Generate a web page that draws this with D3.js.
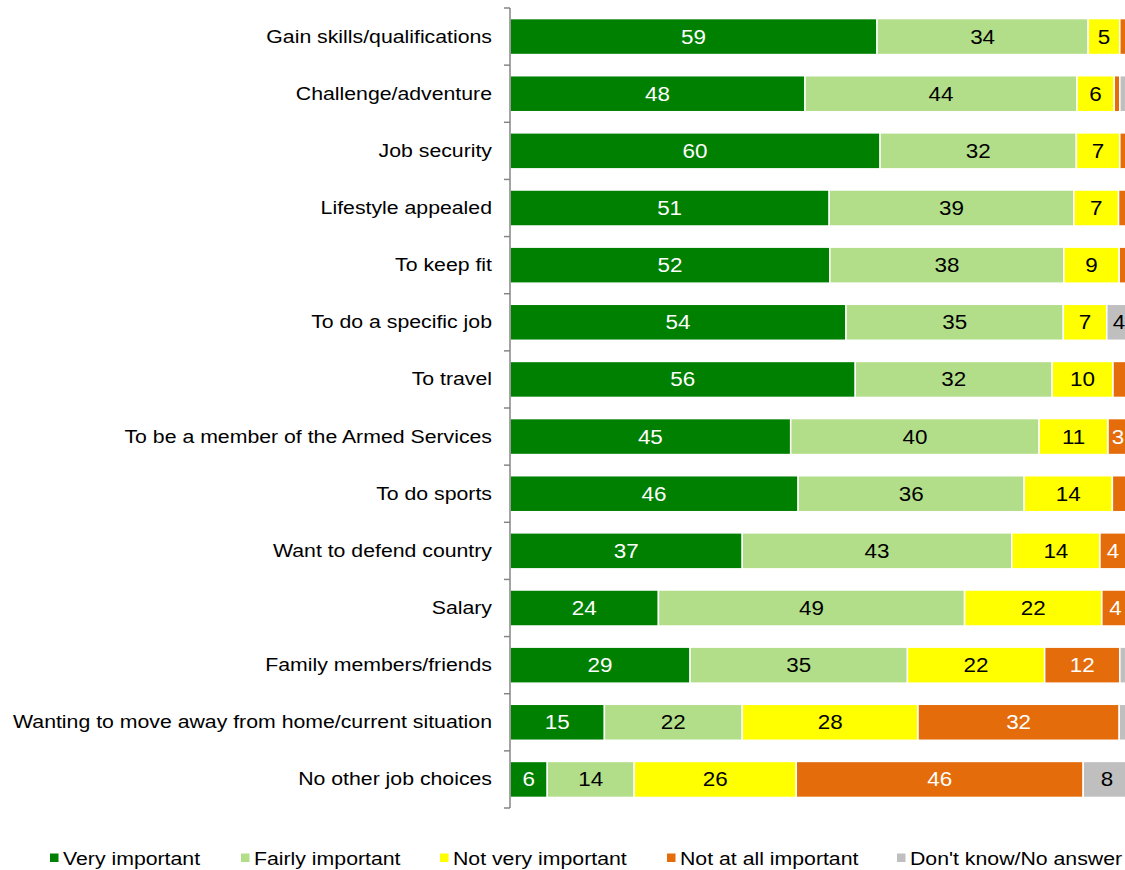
<!DOCTYPE html>
<html>
<head>
<meta charset="utf-8">
<script src="https://cdn.jsdelivr.net/npm/d3@7"></script>
<style>
  body { margin: 0; background: #fff; }
  text { font-family: "Liberation Sans", Arial, sans-serif; }
</style>
</head>
<body>
<script>
// categories, top to bottom
var reasons = [
  "Gain skills/qualifications",
  "Challenge/adventure",
  "Job security",
  "Lifestyle appealed",
  "To keep fit",
  "To do a specific job",
  "To travel",
  "To be a member of the Armed Services",
  "To do sports",
  "Want to defend country",
  "Salary",
  "Family members/friends",
  "Wanting to move away from home/current situation",
  "No other job choices"
]

var series = ["Very important", "Fairly important", "Not very important", "Not at all important", "Don't know/No answer"]

// values (%) per series, same order as reasons (labels are rounded)
var veryImportant   = [59.1, 47.5, 59.6, 51.4, 51.5, 54.1, 55.6, 45.2, 46.4, 37.4, 23.9, 29.0, 15.2, 6.0]
var fairlyImportant = [34.0, 43.8, 31.6, 39.4, 37.7, 35.0, 31.7, 40.0, 36.4, 43.4, 49.3, 35.0, 22.2, 14.0]
var notVery         = [5.1, 6.0, 7.0, 7.2, 8.9, 7.0, 9.8, 11.1, 14.2, 14.2, 22.1, 22.1, 28.3, 26.1]
var notAtAll        = [1.0, 0.9, 1.8, 1.8, 1.9, 0.0, 2.4, 3.2, 2.4, 4.2, 4.4, 12.1, 32.4, 46.2]
var dontKnow        = [0.8, 1.8, 0.0, 0.2, 0.0, 3.9, 0.5, 0.5, 0.6, 0.8, 0.3, 1.0, 1.2, 7.7]

var colors = ["#008000", "#b3de89", "#ffff00", "#e46c0a", "#bfbfbf"]
var labelColors = ["#fff", "#000", "#000", "#fff", "#000"]

// build rows for stacking
var rows = reasons.map(function(r, i) {
  return {reason: r, v0: veryImportant[i], v1: fairlyImportant[i], v2: notVery[i], v3: notAtAll[i], v4: dontKnow[i]}
})
var keys = ["v0", "v1", "v2", "v3", "v4"]
var stacked = d3.stack().keys(keys)(rows)

var W = 1125, H = 870
var stretch = "scale(1.15,1)" // text in the reference is a bit wide

var svg = d3.select("body").append("svg")
    .attr("width", W)
    .attr("height", H)

var x = d3.scaleLinear().domain([0, 100]).range([510, 1131])
var y = d3.scaleBand().domain(reasons).range([8, 808]).paddingInner(0.37).paddingOuter(0.185)

// bar layers
var layers = svg.append("g").selectAll("g")
  .data(stacked)
  .enter()
  .append("g")
  .attr("fill", (d, i) => colors[i])

layers.selectAll("rect")
  .data(d => d)
  .enter()
  .append("rect")
  .attr("x", d => x(d[0]))
  .attr("y", d => y(d.data.reason))
  .attr("width", d => Math.max(0, x(d[1]) - x(d[0])))
  .attr("height", y.bandwidth())
  .style("stroke", "#fff")
  .style("stroke-width", 1.5)

// value labels
stacked.forEach(function(layer, i) {
  svg.append("g").selectAll("text")
    .data(layer.filter(d => Math.round(d[1] - d[0]) >= 3))
    .enter()
    .append("text")
    .attr("transform", d => "translate(" + (x(d[0]) + x(d[1])) / 2 + "," + (y(d.data.reason) + y.bandwidth() / 2) + ") " + stretch)
    .attr("dy", "0.36em")
    .attr("text-anchor", "middle")
    .attr("font-size", "19.5px")
    .attr("fill", labelColors[i])
    .text(d => Math.round(d[1] - d[0]))
})

// category axis
var axis = d3.axisLeft(y).tickSize(0).tickPadding(0)
var ax = svg.append("g").attr("transform", "translate(492,0)").call(axis)
ax.select(".domain").remove()
ax.selectAll("text")
  .attr("x", 0)
  .attr("transform", stretch)
  .attr("font-size", "18.5px")
  .attr("fill", "#000")
  .style("font-family", "'Liberation Sans', Arial, sans-serif")

// axis line and boundary ticks
var bounds = d3.range(reasons.length + 1).map(i => 8 + i * (800 / reasons.length))
svg.append("line")
  .attr("x1", 510).attr("x2", 510)
  .attr("y1", 8).attr("y2", 808)
  .style("stroke", "#868686").style("stroke-width", 1.5)
svg.append("g").selectAll("line")
  .data(bounds)
  .enter()
  .append("line")
  .attr("x1", 504).attr("x2", 510)
  .attr("y1", d => d).attr("y2", d => d)
  .style("stroke", "#868686").style("stroke-width", 1.5)

// legend
var legendX = [50, 241, 440, 667, 897]
var legend = svg.append("g").selectAll("g")
  .data(series)
  .enter()
  .append("g")
  .attr("transform", (d, i) => "translate(" + legendX[i] + ",858)")
legend.append("rect")
  .attr("x", 0).attr("y", -4.5)
  .attr("width", 8.5).attr("height", 8.5)
  .attr("fill", (d, i) => colors[i])
legend.append("text")
  .attr("transform", "translate(13,0) " + stretch)
  .attr("dy", "0.36em")
  .attr("font-size", "18.5px")
  .text(d => d)
</script>
</body>
</html>
